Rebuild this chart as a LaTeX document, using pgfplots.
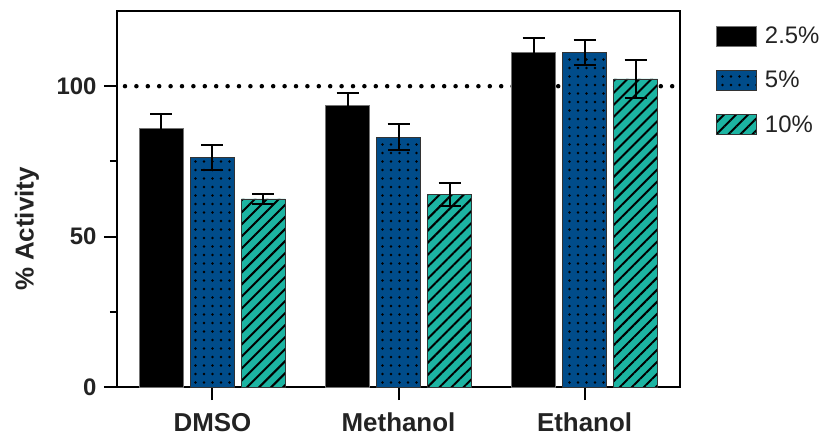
\documentclass[border=0pt]{standalone}
\usepackage{pgfplots}
\pgfplotsset{compat=1.18}
\usepackage{fontspec}
\setmainfont{Liberation Sans}
\usetikzlibrary{patterns.meta}
\definecolor{cblue}{RGB}{0,76,138}
\definecolor{cteal}{RGB}{28,180,162}
\definecolor{txt}{RGB}{35,35,35}
\begin{document}
\begin{tikzpicture}
\useasboundingbox (-117bp,-55bp) rectangle (710bp,387bp);
\begin{axis}[
  at={(0,0)}, anchor=south west,
  scale only axis, width=563bp, height=376bp,
  xmin=-0.513, xmax=2.513, ymin=0, ymax=125,
  ybar=7bp, bar width=44bp,
  axis line style={line width=2.4bp},
  tick pos=left, tick align=outside,
  major tick length=13bp, minor tick length=7bp,
  tick style={line width=2bp, black},
  xtick={0,1,2},
  xticklabels={DMSO,\raisebox{3bp}{Methanol},\raisebox{-2bp}{Ethanol}},
  ytick={0,50,100}, minor ytick={25,75},
  /pgf/number format/assume math mode=true,
  ticklabel style={font=\fontsize{24}{28}\selectfont\bfseries, text=txt},
  xticklabel style={yshift=-11bp, font=\fontsize{26}{30}\selectfont\bfseries, inner sep=2bp},
  yticklabel style={xshift=-4bp},
  ylabel={\% Activity},
  ylabel style={font=\fontsize{26}{30}\selectfont\bfseries, text=txt, at={(axis description cs:-0.16,0.42)}, anchor=center},
  legend style={at={(axis description cs:1,1)}, anchor=north west, xshift=33bp, yshift=-12bp,
    draw=none, fill=none, font=\fontsize{24}{28}\selectfont, text=txt, row sep=22bp,
    nodes={inner sep=2bp, anchor=west}},
  legend cell align=left,
  legend image code/.code={\draw[#1] (0bp,-10bp) rectangle (40bp,10bp);},
  error bars/y dir=both, error bars/y explicit,
  error bars/error bar style={line width=2bp, black},
  error bars/error mark options={rotate=90, mark size=11bp, line width=2bp, black},
]
\addplot[ybar=0pt, forget plot, draw=black, line width=4.5bp, line cap=round, dash pattern=on 0bp off 11.4bp, sharp plot]
  coordinates {(-0.47,100) (2.513,100)};
\addplot[fill=black, draw=black!55, line width=0.8bp]
  coordinates {(0,85.9) +- (0,5.0) (1,93.7) +- (0,4.1) (2,111.1) +- (0,4.8)};
\addplot[fill=cblue, draw=black!80, line width=0.8bp,
  postaction={pattern={Dots[distance=8.5bp, radius=1.3bp]}, pattern color=black}]
  coordinates {(0,76.2) +- (0,4.2) (1,83.1) +- (0,4.4) (2,111.2) +- (0,4.0)};
\addplot[fill=cteal, draw=black!80, line width=0.8bp,
  postaction={pattern={Lines[angle=45, distance=8.5bp, line width=2bp]}, pattern color=black}]
  coordinates {(0,62.5) +- (0,1.7) (1,64.1) +- (0,3.8) (2,102.4) +- (0,6.2)};
\legend{\hspace{6bp}2.5\%,\hspace{6bp}5\%,\hspace{6bp}10\%}
\end{axis}
\end{tikzpicture}
\end{document}
